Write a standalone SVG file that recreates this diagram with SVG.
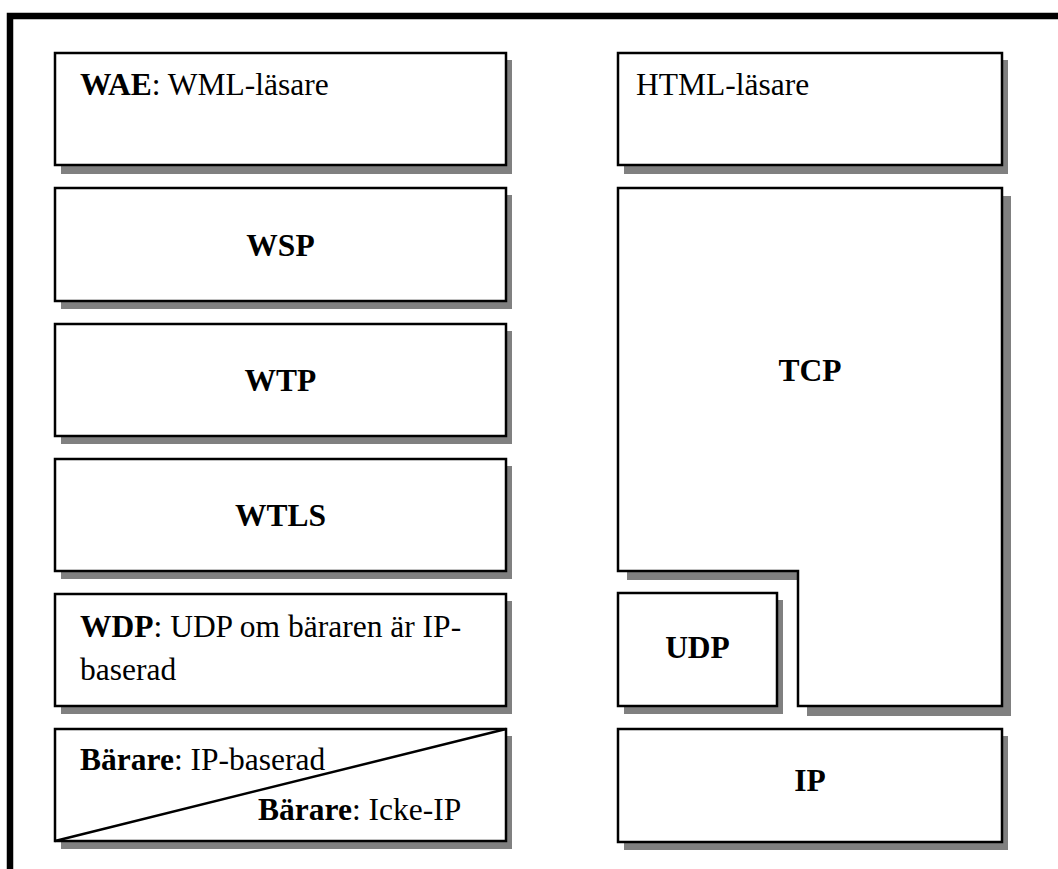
<svg xmlns="http://www.w3.org/2000/svg" width="1058" height="869" viewBox="0 0 1058 869">
<style>
.box{fill:#fff;stroke:#000;stroke-width:2.5}
.sh{fill:#808080}
text{font-family:"Liberation Serif","Times New Roman",serif;font-size:31.5px;fill:#000}
.b{font-weight:bold}
.c{text-anchor:middle}
</style>
<rect width="1058" height="869" fill="#fff"/>
<path d="M10 872 V16 H1062" fill="none" stroke="#000" stroke-width="6.5"/>
<g id="wae"><rect class="sh" x="61" y="60" width="451" height="114"/><rect class="box" x="55" y="53" width="451" height="112"/><text x="80" y="95"><tspan class="b">WAE</tspan>: WML-läsare</text></g>
<g id="wsp"><rect class="sh" x="61" y="195" width="451" height="114"/><rect class="box" x="55" y="188" width="451" height="113"/><text class="c b" x="280.5" y="256">WSP</text></g>
<g id="wtp"><rect class="sh" x="61" y="331" width="451" height="113"/><rect class="box" x="55" y="324" width="451" height="112"/><text class="c b" x="280.5" y="391">WTP</text></g>
<g id="wtls"><rect class="sh" x="61" y="466" width="451" height="113"/><rect class="box" x="55" y="459" width="451" height="112"/><text class="c b" x="280.5" y="526">WTLS</text></g>
<g id="wdp"><rect class="sh" x="61" y="601" width="451" height="113"/><rect class="box" x="55" y="594" width="451" height="112"/><text x="80" y="637"><tspan class="b">WDP</tspan>: UDP om bäraren är IP-</text><text x="80" y="680">baserad</text></g>
<g id="barare"><rect class="sh" x="61" y="736" width="451" height="113"/><rect class="box" x="55" y="729" width="451" height="112"/><line x1="55" y1="841" x2="506" y2="729" stroke="#000" stroke-width="2.5"/><text x="80" y="770"><tspan class="b">Bärare</tspan>: IP-baserad</text><text x="258" y="820"><tspan class="b">Bärare</tspan>: Icke-IP</text></g>
<g id="html"><rect class="sh" x="624" y="60" width="384" height="114"/><rect class="box" x="618" y="53" width="384" height="112"/><text x="636" y="95">HTML-läsare</text></g>
<g id="tcp"><path class="sh" d="M627 196 H1011 V716 H807 V580 H627 Z"/><path class="box" d="M618 188 H1002 V706 H798 V571 H618 Z"/><text class="c b" x="810" y="381">TCP</text></g>
<g id="udp"><rect class="sh" x="624" y="600" width="159" height="114"/><rect class="box" x="618" y="593" width="159" height="113"/><text class="c b" x="697.5" y="658">UDP</text></g>
<g id="ip"><rect class="sh" x="624" y="736" width="384" height="114"/><rect class="box" x="618" y="729" width="384" height="113"/><text class="c b" x="810" y="791">IP</text></g>
<g id="connectors"/>
</svg>
